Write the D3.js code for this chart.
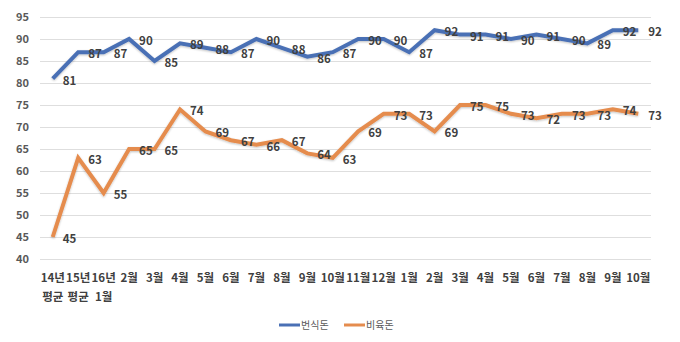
<!DOCTYPE html>
<html>
<head>
<meta charset="utf-8">
<script src="https://cdn.jsdelivr.net/npm/d3@7"></script>
<style>
  body { margin: 0; background: #fff; }
  svg { display: block; font-family: "Noto Sans CJK KR", "Noto Sans", sans-serif; }
</style>
</head>
<body>
<svg id="chart"></svg>
<script>
// categories (first line / second line of the axis label)
const months = ['14년', '15년', '16년', '2월', '3월', '4월', '5월', '6월', '7월', '8월', '9월', '10월',
  '11월', '12월', '1월', '2월', '3월', '4월', '5월', '6월', '7월', '8월', '9월', '10월'];
const subLabels = ['평균', '평균', '1월'];

// series
const sowValues = [81, 87, 87, 90, 85, 89, 88, 87, 90, 88, 86, 87, 90, 90, 87, 92, 91, 91, 90, 91, 90, 89, 92, 92];
const finisherValues = [45, 63, 55, 65, 65, 74, 69, 67, 66, 67, 64, 63, 69, 73, 73, 69, 75, 75, 73, 72, 73, 73, 74, 73];
const yTicks = [40, 45, 50, 55, 60, 65, 70, 75, 80, 85, 90, 95];

const seriesList = [
  {name: '번식돈', values: sowValues, color: '#4A70B5'},
  {name: '비육돈', values: finisherValues, color: '#E58C4E'}
];

const width = 680, height = 342;
const margin = {top: 17, right: 29, bottom: 82, left: 40};

const svg = d3.select('#chart')
  .attr('width', width)
  .attr('height', height);

const x = d3.scalePoint()
  .domain(d3.range(months.length))
  .range([margin.left, width - margin.right])
  .padding(0.5);

const y = d3.scaleLinear()
  .domain([40, 95])
  .range([height - margin.bottom - 1, margin.top]);

// soft shadow under the lines
const defs = svg.append('defs');
const filter = defs.append('filter').attr('id', 'soft')
  .attr('x', '-5%').attr('y', '-20%').attr('width', '110%').attr('height', '140%');
filter.append('feGaussianBlur').attr('in', 'SourceAlpha').attr('stdDeviation', 1.2).attr('result', 'b');
filter.append('feOffset').attr('in', 'b').attr('dx', 0).attr('dy', 1).attr('result', 'o');
filter.append('feComponentTransfer').attr('in', 'o').attr('result', 's')
  .append('feFuncA').attr('type', 'linear').attr('slope', 0.25);
const merge = filter.append('feMerge');
merge.append('feMergeNode').attr('in', 's');
merge.append('feMergeNode').attr('in', 'SourceGraphic');

// gridlines
svg.append('g')
  .selectAll('line')
  .data(yTicks)
  .enter()
  .append('line')
  .attr('x1', margin.left)
  .attr('x2', width - margin.right)
  .attr('y1', d => Math.round(y(d)) + 0.5)
  .attr('y2', d => Math.round(y(d)) + 0.5)
  .attr('stroke', '#dedede')
  .attr('stroke-width', 1);

// y axis labels
svg.append('g')
  .selectAll('text')
  .data(yTicks)
  .enter()
  .append('text')
  .attr('x', 29)
  .attr('y', d => y(d))
  .attr('dy', '0.35em')
  .attr('text-anchor', 'end')
  .attr('font-size', 11)
  .attr('font-weight', 'bold')
  .attr('fill', '#595959')
  .text(d => d);

// x axis labels
const xLabels = svg.append('g');
xLabels.selectAll('text.month')
  .data(months)
  .enter()
  .append('text')
  .attr('class', 'month')
  .attr('x', (d, i) => x(i))
  .attr('y', 282)
  .attr('text-anchor', 'middle')
  .attr('font-size', 11.5)
  .attr('font-weight', 'bold')
  .attr('fill', '#404040')
  .text(d => d);
xLabels.selectAll('text.sub')
  .data(subLabels)
  .enter()
  .append('text')
  .attr('class', 'sub')
  .attr('x', (d, i) => x(i))
  .attr('y', 301)
  .attr('text-anchor', 'middle')
  .attr('font-size', 11.5)
  .attr('font-weight', 'bold')
  .attr('fill', '#404040')
  .text(d => d);

// lines
const line = d3.line()
  .x((d, i) => x(i))
  .y(d => y(d));

seriesList.forEach(function(s) {
  svg.append('path')
    .datum(s.values)
    .attr('d', line)
    .attr('fill', 'none')
    .attr('stroke', s.color)
    .attr('stroke-width', 4)
    .attr('stroke-linejoin', 'miter')
    .attr('filter', 'url(#soft)');
});

// value labels, placed right of each point
seriesList.forEach(function(s) {
  svg.append('g')
    .selectAll('text')
    .data(s.values)
    .enter()
    .append('text')
    .attr('x', (d, i) => x(i) + 10)
    .attr('y', d => y(d) + 2)
    .attr('dy', '0.35em')
    .attr('font-size', 11.5)
    .attr('font-weight', 'bold')
    .attr('fill', '#404040')
    .text(d => d);
});

// legend
const legend = svg.append('g');
const legendX = [279, 344];
seriesList.forEach(function(s, i) {
  legend.append('line')
    .attr('x1', legendX[i])
    .attr('x2', legendX[i] + 21)
    .attr('y1', 325)
    .attr('y2', 325)
    .attr('stroke', s.color)
    .attr('stroke-width', 3);
  legend.append('text')
    .attr('x', legendX[i] + 22)
    .attr('y', 325)
    .attr('dy', '0.35em')
    .attr('font-size', 10)
    .attr('fill', '#595959')
    .text(s.name);
});
</script>
</body>
</html>
